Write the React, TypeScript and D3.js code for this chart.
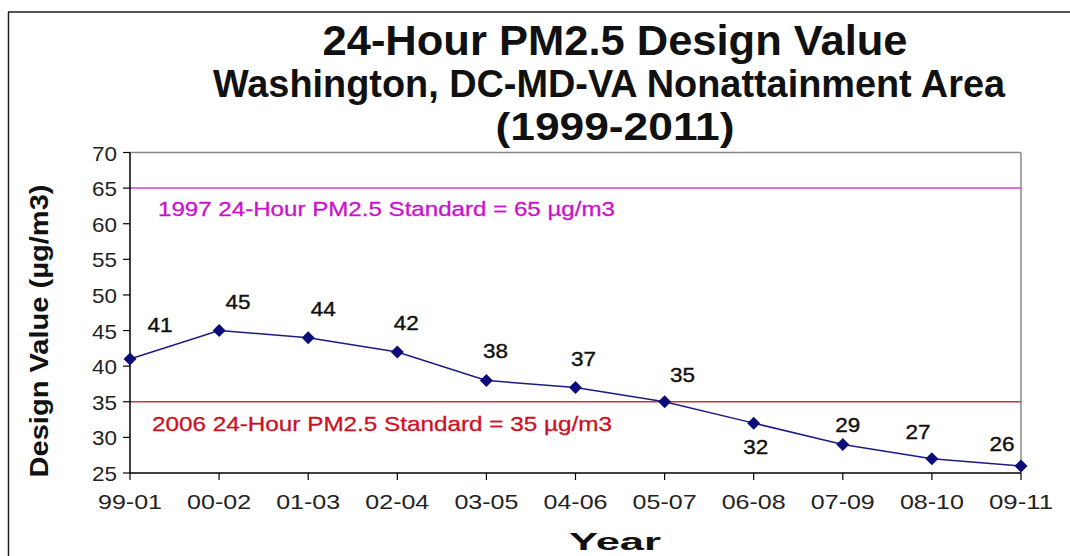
import React from "react";
import * as d3 from "d3";

const categories = ["99-01", "00-02", "01-03", "02-04", "03-05", "04-06", "05-07", "06-08", "07-09", "08-10", "09-11"];
const designValues = [41, 45, 44, 42, 38, 37, 35, 32, 29, 27, 26];
const yTicks = [25, 30, 35, 40, 45, 50, 55, 60, 65, 70];
const standard1997 = 65;
const standard2006 = 35;
// label offsets in px relative to each point (placement only)
const labelOffsets: [number, number][] = [
  [30, -27], [19, -22], [15, -22], [9, -22], [9, -22], [8, -22], [18, -20], [2, 31], [5, -13], [-14, -20], [-19, -15],
];

const W = 1070;
const H = 556;
const L = 130, R = 1021, T = 152.5, B = 473;

const FONT = "'Liberation Sans', Arial, Helvetica, sans-serif";

export default function App() {
  const x = d3.scalePoint<string>().domain(categories).range([L, R]);
  const y = d3.scaleLinear().domain([25, 70]).range([B, T]);
  const line = d3
    .line<number>()
    .x((_, i) => x(categories[i]) as number)
    .y((d) => y(d));
  const diamond = "M0,-6.5L6.5,0L0,6.5L-6.5,0Z";

  return (
    <svg
      width={W}
      height={H}
      viewBox={`0 0 ${W} ${H}`}
      style={{ position: "absolute", left: 0, top: 0, background: "#fff" }}
      fontFamily={FONT}
    >
      <rect x={0} y={0} width={W} height={H} fill="#fff" />
      {/* outer frame */}
      <line x1={8} x2={W} y1={12} y2={12} stroke="#555" strokeWidth={2} />
      <line x1={8.5} x2={8.5} y1={12} y2={H} stroke="#222" strokeWidth={1.5} />

      {/* titles */}
      <text x={615} y={55} textAnchor="middle" fontSize={43} fontWeight="bold" fill="#111" textLength={585} lengthAdjust="spacingAndGlyphs">
        24-Hour PM2.5 Design Value
      </text>
      <text x={609} y={97} textAnchor="middle" fontSize={39} fontWeight="bold" fill="#111" textLength={792} lengthAdjust="spacingAndGlyphs">
        Washington, DC-MD-VA Nonattainment Area
      </text>
      <text x={615} y={140} textAnchor="middle" fontSize={39} fontWeight="bold" fill="#111" textLength={239} lengthAdjust="spacingAndGlyphs">
        (1999-2011)
      </text>

      {/* plot area */}
      <rect x={L} y={T} width={R - L} height={B - T} fill="#fff" />
      <line x1={L} x2={R} y1={T} y2={T} stroke="#888" strokeWidth={1.5} />
      <line x1={R} x2={R} y1={T} y2={B} stroke="#888" strokeWidth={1.5} />

      {/* standard lines */}
      <line x1={L} x2={R} y1={y(standard1997)} y2={y(standard1997)} stroke="#d040d0" strokeWidth={1.5} />
      <text x={158} y={y(standard1997) + 28} fontSize={21} fill="#cc11cc" stroke="#cc11cc" strokeWidth={0.3} textLength={457} lengthAdjust="spacingAndGlyphs">
        1997 24-Hour PM2.5 Standard = 65 µg/m3
      </text>
      <line x1={L} x2={R} y1={y(standard2006)} y2={y(standard2006)} stroke="#c0393f" strokeWidth={1.5} />
      <text x={152} y={y(standard2006) + 29} fontSize={21} fill="#cc1122" stroke="#cc1122" strokeWidth={0.3} textLength={460} lengthAdjust="spacingAndGlyphs">
        2006 24-Hour PM2.5 Standard = 35 µg/m3
      </text>

      {/* axes */}
      <line x1={L} x2={L} y1={T} y2={B} stroke="#000" strokeWidth={1.5} />
      <line x1={L} x2={R} y1={B} y2={B} stroke="#000" strokeWidth={1.5} />
      {yTicks.map((t) => (
        <g key={t}>
          <line x1={L - 7} x2={L} y1={y(t)} y2={y(t)} stroke="#000" strokeWidth={1.2} />
          <text x={117} y={y(t) + 8} textAnchor="end" fontSize={21} fill="#222" textLength={25} lengthAdjust="spacingAndGlyphs">
            {t}
          </text>
        </g>
      ))}
      {categories.map((c) => (
        <g key={c}>
          <line x1={x(c)} x2={x(c)} y1={B} y2={B + 7} stroke="#000" strokeWidth={1.2} />
          <text x={x(c)} y={509} textAnchor="middle" fontSize={21} fill="#222" textLength={64} lengthAdjust="spacingAndGlyphs">
            {c}
          </text>
        </g>
      ))}

      {/* axis titles */}
      <text
        transform={`translate(48, 331) rotate(-90)`}
        textAnchor="middle"
        fontSize={25}
        fontWeight="bold"
        fill="#111"
        textLength={293}
        lengthAdjust="spacingAndGlyphs"
      >
        Design Value (µg/m3)
      </text>
      <text x={615} y={550} textAnchor="middle" fontSize={24} fontWeight="bold" fill="#111" textLength={92} lengthAdjust="spacingAndGlyphs">
        Year
      </text>

      {/* series */}
      <path d={line(designValues) || ""} fill="none" stroke="#1c1c80" strokeWidth={1.5} />
      {designValues.map((v, i) => (
        <path key={i} d={diamond} transform={`translate(${x(categories[i])},${y(v)})`} fill="#0c0c7a" />
      ))}
      {designValues.map((v, i) => (
        <text
          key={"l" + i}
          x={(x(categories[i]) as number) + labelOffsets[i][0]}
          y={y(v) + labelOffsets[i][1]}
          textAnchor="middle"
          fontSize={21}
          fill="#111"
          stroke="#111"
          strokeWidth={0.4}
          textLength={25}
          lengthAdjust="spacingAndGlyphs"
        >
          {v}
        </text>
      ))}
    </svg>
  );
}
